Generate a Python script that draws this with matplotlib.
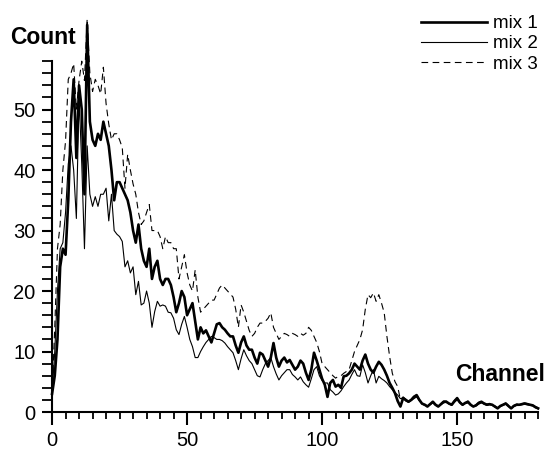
import matplotlib
matplotlib.use('Agg')
import matplotlib.pyplot as plt
from matplotlib.ticker import MultipleLocator
import numpy as np

plt.rcParams['font.family'] = ['Liberation Sans', 'DejaVu Sans']

# counts per channel (channels 0..180)
mix1 = [3, 6, 12, 24, 27, 26, 35, 48, 55, 42, 54, 50, 36, 64, 48, 45, 44, 46, 45, 48,
        46, 44, 40, 35, 38, 38, 37, 36, 35, 33, 30, 28, 31, 27, 25, 24, 27, 22, 24, 25,
        22, 21, 22, 22, 21, 19, 16.5, 18, 20, 19, 16, 17, 18, 15, 12, 14, 13, 13.5, 12.5, 11.5,
        13, 14.5, 14.7, 14, 13.6, 13, 12.5, 12.5, 11, 9.8, 11.5, 12.5, 11, 10.3, 10.3, 9, 8, 9.8, 9.5, 8.5,
        7.5, 9, 11.4, 9, 7.5, 8.5, 9, 8.2, 8.6, 7.8, 7, 7.5, 8.5, 8, 6.5, 5.3, 7, 9.8, 8.5, 7,
        5.5, 4.5, 2.5, 4.8, 5.3, 4.2, 4.5, 4, 5.9, 6, 6.4, 7, 8, 7.5, 7, 8.5, 9.5, 8, 7, 6.5,
        7.5, 8.3, 7.8, 7, 6, 4.8, 4, 3.1, 1.8, 0.9, 2.3, 2, 1.7, 2, 2.5, 2.8, 2, 1.4, 1.2, 0.9,
        1.3, 1.7, 1.2, 0.9, 1.3, 1.7, 1.7, 1.4, 1.2, 1.8, 2.3, 1.6, 1.2, 1.5, 1.7, 1.2, 0.9, 1.1, 1.5, 1.7,
        1.4, 1.2, 1.3, 1.2, 0.9, 0.6, 1, 1.2, 1.4, 1, 0.6, 1, 1.2, 1.2, 1.3, 1.4, 1.3, 1.2, 1.1, 0.8,
        0.6]

mix2 = [3, 10, 20, 27, 28, 33, 41, 44, 40, 32, 52, 41, 27, 44, 36, 34, 35.6, 34, 36, 36,
        37, 31.6, 36, 30, 29.4, 29, 28.2, 24, 25, 23, 24, 19.4, 21.6, 17.7, 18, 20, 18, 14, 16.6, 18.3,
        17.5, 17.7, 17.5, 16.5, 16.4, 15.5, 13.6, 12.8, 14.5, 15.8, 14, 12, 10.8, 9, 9, 10, 10.8, 11.5, 12, 12.5,
        12.3, 12, 12, 11.8, 11.4, 10.8, 10.3, 9.8, 8.5, 7, 8.8, 10.3, 9.3, 8.5, 8, 7, 6, 5.8, 7, 8,
        8.5, 9, 7.5, 6.3, 5.3, 6, 6.5, 7, 7, 6.2, 5.8, 5.3, 5.8, 5, 4.5, 4.1, 5.5, 7, 7.5, 6,
        5.2, 4.8, 4.8, 3.7, 3.3, 2.8, 3, 3.5, 4.2, 4.8, 5.3, 6.2, 7, 6, 5.9, 7.8, 6.5, 4.8, 6, 7,
        4.8, 5.9, 5.5, 5.2, 4.8, 4.2, 3.7, 3.2, 2.8, 2.2, 2.3, 1.8, 1.6, 1.9, 2.2, 2.5, 1.9, 1.3, 1.1, 1,
        1.2, 1.5, 1.1, 0.9, 1.2, 1.5, 1.6, 1.3, 1.1, 1.6, 2, 1.5, 1.1, 1.4, 1.5, 1.1, 0.9, 1, 1.3, 1.5,
        1.3, 1.1, 1.2, 1.1, 0.8, 0.6, 0.9, 1.1, 1.3, 0.9, 0.6, 0.9, 1.1, 1.1, 1.2, 1.3, 1.2, 1.1, 1, 0.7,
        0.5]

mix3 = [3, 14, 27, 31, 40, 44.8, 55, 56, 57.6, 50, 54.8, 58, 54.8, 65, 56, 53, 55, 54, 52.6, 57,
        51, 47.6, 45, 46, 46, 45, 43.7, 37, 42.6, 40, 37.7, 36, 33, 31, 31.6, 33, 34.3, 30, 30, 30,
        29, 27, 29, 28, 28, 27, 27, 22, 24, 26, 23, 21, 20, 23.5, 19, 16.5, 17, 17.5, 18, 18.5,
        18.5, 19.5, 20.5, 21, 20.5, 20, 19.5, 19, 17, 14, 17.7, 16.5, 15, 13.5, 12.5, 13, 14, 14.7, 14.7, 15,
        15.5, 16.4, 14, 13, 12, 12.5, 13, 12.8, 12.5, 13, 12.8, 12.5, 13, 12.7, 13, 14, 13.5, 12.5, 11.5, 10,
        8, 7.5, 7, 6.5, 6, 5.6, 5.9, 6, 6.4, 6.7, 7, 8.5, 10, 11, 12, 13.6, 17, 19.4, 18.9, 19.7,
        18.3, 19.4, 18, 16.4, 12.5, 9.2, 6.4, 5, 4.2, 2, 2.5, 2.1, 1.8, 2.1, 2.6, 2.9, 2.1, 1.5, 1.3, 1,
        1.4, 1.8, 1.3, 1, 1.4, 1.8, 1.8, 1.5, 1.3, 1.9, 2.4, 1.7, 1.3, 1.6, 1.8, 1.3, 1, 1.2, 1.6, 1.8,
        1.5, 1.3, 1.4, 1.3, 1, 0.7, 1.1, 1.3, 1.5, 1.1, 0.7, 1.1, 1.3, 1.3, 1.4, 1.5, 1.4, 1.3, 1.2, 0.9,
        0.7]

channel = np.arange(len(mix1))

fig = plt.figure(figsize=(5.48, 4.55), dpi=100)
ax = fig.add_axes([0.095, 0.0945, 0.887, 0.771])

ax.plot(channel, mix1, color='black', lw=1.9, label='mix 1', clip_on=False)
ax.plot(channel, mix2, color='black', lw=0.8, label='mix 2', clip_on=False)
ax.plot(channel, mix3, color='black', lw=0.8, ls=(0, (6, 4)), label='mix 3', clip_on=False)

ax.set_xlim(0, 180)
ax.set_ylim(0, 58)
ax.xaxis.set_major_locator(MultipleLocator(50))
ax.xaxis.set_minor_locator(MultipleLocator(5))
ax.yaxis.set_major_locator(MultipleLocator(10))
ax.yaxis.set_minor_locator(MultipleLocator(2))

for s in ['top', 'right']:
    ax.spines[s].set_visible(False)
for s in ['left', 'bottom']:
    ax.spines[s].set_linewidth(1.5)

ax.tick_params(axis='x', which='major', direction='out', length=9, width=1.5, labelsize=14.5, pad=5)
ax.tick_params(axis='x', which='minor', direction='out', length=5, width=1.3)
ax.tick_params(axis='y', which='major', direction='out', length=7, width=1.5, labelsize=14.5, pad=5)
ax.tick_params(axis='y', which='minor', direction='out', length=7, width=1.3)

fig.text(0.018, 0.918, 'Count', fontsize=16.5, fontweight='bold', va='center', ha='left')
fig.text(0.995, 0.178, 'Channel', fontsize=16.5, fontweight='bold', va='center', ha='right')

ax.legend(loc='upper right', bbox_to_anchor=(0.982, 0.967), bbox_transform=fig.transFigure,
          frameon=False, fontsize=13.5, handlelength=3.5, handletextpad=0.35,
          labelspacing=0.17, borderaxespad=0.0, borderpad=0.0)

fig.savefig('out.png', dpi=100)
